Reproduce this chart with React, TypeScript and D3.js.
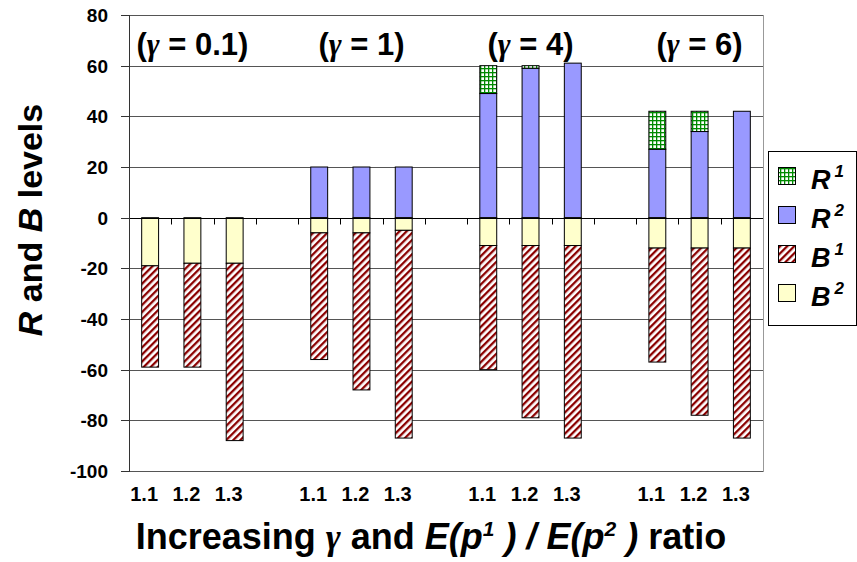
import React, { useEffect, useRef } from 'react';
import * as d3 from 'd3';

const gammas = ['0.1', '1', '4', '6'];
const ratios = ['1.1', '1.2', '1.3'];
// one value per bar, gamma by gamma, ratio by ratio
const r1 = [0, 0, 0, 0, 0, 0, 11, 1, 0, 15, 8, 0];
const r2 = [0, 0, 0, 20, 20, 20, 49, 59, 61, 27, 34, 42];
const b1 = [-40, -41, -70, -50, -62, -82, -49, -68, -76, -45, -66, -75];
const b2 = [-19, -18, -18, -6, -6, -5, -11, -11, -11, -12, -12, -12];
const yTicks = [80, 60, 40, 20, 0, -20, -40, -60, -80, -100];

const FONT = "'Liberation Sans', Arial, sans-serif";
const SERIF = "'Liberation Serif', 'Times New Roman', serif";

const App: React.FC = () => {
  const svgRef = useRef<SVGSVGElement>(null);

  useEffect(() => {
    if (!svgRef.current) return;
    const svg = d3.select(svgRef.current);
    svg.selectAll('*').remove();

    const left = 129, right = 763, top = 15, bottom = 471;
    const perGroup = ratios.length + 1;
    const nSlots = gammas.length * perGroup - 1;

    const x = d3.scaleBand<number>()
      .domain(d3.range(nSlots))
      .range([left, right])
      .paddingInner(0.6)
      .paddingOuter(0.3);
    const step = x.step();
    const y = d3.scaleLinear().domain([-100, 80]).range([bottom, top]);

    const rows = gammas.flatMap((g, gi) =>
      ratios.map((r, ri) => {
        const k = gi * ratios.length + ri;
        return { slot: gi * perGroup + ri, ratio: r, R2: r2[k], R1: r1[k], B2: b2[k], B1: b1[k] };
      })
    );

    const keys = ['R2', 'R1', 'B2', 'B1'];
    const stacked = d3.stack<any>().keys(keys).offset(d3.stackOffsetDiverging)(rows);

    const defs = svg.append('defs');
    const hatch = defs.append('pattern')
      .attr('id', 'hatch')
      .attr('patternUnits', 'userSpaceOnUse')
      .attr('width', 5).attr('height', 5)
      .attr('patternTransform', 'rotate(45)');
    hatch.append('rect').attr('width', 5).attr('height', 5).attr('fill', '#fff');
    hatch.append('rect').attr('width', 2.3).attr('height', 5).attr('fill', '#8b0000');

    const grid = defs.append('pattern')
      .attr('id', 'grid')
      .attr('patternUnits', 'userSpaceOnUse')
      .attr('width', 4).attr('height', 4);
    grid.append('rect').attr('width', 4).attr('height', 4).attr('fill', '#008a00');
    grid.append('rect').attr('x', 1.3).attr('y', 1.3).attr('width', 2.7).attr('height', 2.7).attr('fill', '#fff');

    const fills: Record<string, string> = {
      R1: 'url(#grid)',
      R2: '#9999ff',
      B1: 'url(#hatch)',
      B2: '#ffffcc',
    };

    // gridlines
    svg.append('g')
      .selectAll('line')
      .data(yTicks)
      .join('line')
      .attr('x1', left).attr('x2', right)
      .attr('y1', d => Math.round(y(d)) + 0.5)
      .attr('y2', d => Math.round(y(d)) + 0.5)
      .attr('stroke', d => (d === 0 ? '#000' : '#555'))
      .attr('stroke-width', 1);

    // plot area right border
    svg.append('line')
      .attr('x1', right + 0.5).attr('x2', right + 0.5)
      .attr('y1', top).attr('y2', bottom + 1)
      .attr('stroke', '#999');

    // bars
    svg.append('g')
      .selectAll('g')
      .data(stacked)
      .join('g')
      .attr('fill', d => fills[d.key])
      .selectAll('rect')
      .data(d => d.filter(p => p[1] !== p[0]))
      .join('rect')
      .attr('x', p => x(p.data.slot)!)
      .attr('width', x.bandwidth())
      .attr('y', p => y(Math.max(p[0], p[1])))
      .attr('height', p => Math.abs(y(p[0]) - y(p[1])))
      .attr('stroke', '#000')
      .attr('stroke-width', 1);

    // x axis at zero
    const y0 = Math.round(y(0)) + 0.5;
    svg.append('line')
      .attr('x1', left).attr('x2', right)
      .attr('y1', y0).attr('y2', y0)
      .attr('stroke', '#000');
    svg.append('g')
      .selectAll('line')
      .data(d3.range(1, nSlots))
      .join('line')
      .attr('x1', k => Math.round(left + k * step) + 0.5)
      .attr('x2', k => Math.round(left + k * step) + 0.5)
      .attr('y1', y0).attr('y2', y0 + 6)
      .attr('stroke', '#000');

    // y axis
    svg.append('line')
      .attr('x1', left + 0.5).attr('x2', left + 0.5)
      .attr('y1', top).attr('y2', bottom + 1)
      .attr('stroke', '#333');
    svg.append('g')
      .selectAll('line')
      .data(yTicks)
      .join('line')
      .attr('x1', left - 8).attr('x2', left)
      .attr('y1', d => Math.round(y(d)) + 0.5)
      .attr('y2', d => Math.round(y(d)) + 0.5)
      .attr('stroke', '#333');
    svg.append('g')
      .selectAll('text')
      .data(yTicks)
      .join('text')
      .attr('x', 108)
      .attr('y', d => y(d))
      .attr('dy', '0.36em')
      .attr('text-anchor', 'end')
      .attr('font-family', FONT)
      .attr('font-weight', 'bold')
      .attr('font-size', 19)
      .text(d => d);

    // category labels
    svg.append('g')
      .selectAll('text')
      .data(rows)
      .join('text')
      .attr('x', d => x(d.slot)! + x.bandwidth() / 2 - 6)
      .attr('y', 501)
      .attr('text-anchor', 'middle')
      .attr('font-family', FONT)
      .attr('font-weight', 'bold')
      .attr('font-size', 20)
      .text(d => d.ratio);

    // gamma group labels
    const gl = svg.append('g')
      .selectAll('text')
      .data(gammas)
      .join('text')
      .attr('x', (_, gi) => x(gi * perGroup + 1)! + x.bandwidth() / 2)
      .attr('y', 55)
      .attr('text-anchor', 'middle')
      .attr('font-family', FONT)
      .attr('font-weight', 'bold')
      .attr('font-size', 31);
    gl.append('tspan').text('(');
    gl.append('tspan').attr('font-family', SERIF).attr('font-style', 'italic').text('\u03B3');
    gl.append('tspan').text(g => ` = ${g})`);

    // y title
    const yt = svg.append('text')
      .attr('transform', 'translate(42,220) rotate(-90)')
      .attr('text-anchor', 'middle')
      .attr('font-family', FONT)
      .attr('font-weight', 'bold')
      .attr('font-size', 34);
    yt.append('tspan').attr('font-style', 'italic').text('R');
    yt.append('tspan').text(' and ');
    yt.append('tspan').attr('font-style', 'italic').text('B');
    yt.append('tspan').text(' levels');

    // x title
    const xt = svg.append('text')
      .attr('x', 431).attr('y', 549)
      .attr('text-anchor', 'middle')
      .attr('font-family', FONT)
      .attr('font-weight', 'bold')
      .attr('font-size', 36);
    xt.append('tspan').text('Increasing ');
    xt.append('tspan').attr('font-family', SERIF).attr('font-style', 'italic').text('\u03B3');
    xt.append('tspan').text(' and ');
    xt.append('tspan').attr('font-style', 'italic').text('E(p');
    xt.append('tspan').attr('font-style', 'italic').attr('font-size', 21).attr('dy', -13).text('1');
    xt.append('tspan').attr('font-style', 'italic').attr('dy', 13).text(' ) / E(p');
    xt.append('tspan').attr('font-style', 'italic').attr('font-size', 21).attr('dy', -13).text('2');
    xt.append('tspan').attr('font-style', 'italic').attr('dy', 13).text(' )');
    xt.append('tspan').text(' ratio');

    // legend
    const legendKeys = ['R1', 'R2', 'B1', 'B2'];
    const lg = svg.append('g');
    lg.append('rect')
      .attr('x', 768.5).attr('y', 151.5)
      .attr('width', 88).attr('height', 174)
      .attr('fill', '#fff')
      .attr('stroke', '#000');
    const item = lg.selectAll('g.item')
      .data(legendKeys)
      .join('g')
      .attr('class', 'item')
      .attr('transform', (_, i) => `translate(0,${176 + i * 39})`);
    item.append('rect')
      .attr('x', 778.5).attr('y', -8.5)
      .attr('width', 17).attr('height', 17)
      .attr('fill', d => fills[d])
      .attr('stroke', '#000');
    const lt = item.append('text')
      .attr('x', 811).attr('y', 13)
      .attr('font-family', FONT)
      .attr('font-weight', 'bold')
      .attr('font-style', 'italic')
      .attr('font-size', 27);
    lt.append('tspan').text(d => d[0]);
    lt.append('tspan').attr('font-size', 17).attr('dx', 4).attr('dy', -12).text(d => d[1]);
  }, []);

  return (
    <svg
      ref={svgRef}
      width={857}
      height={562}
      style={{ position: 'absolute', left: 0, top: 0, background: '#fff' }}
    />
  );
};

export default App;
